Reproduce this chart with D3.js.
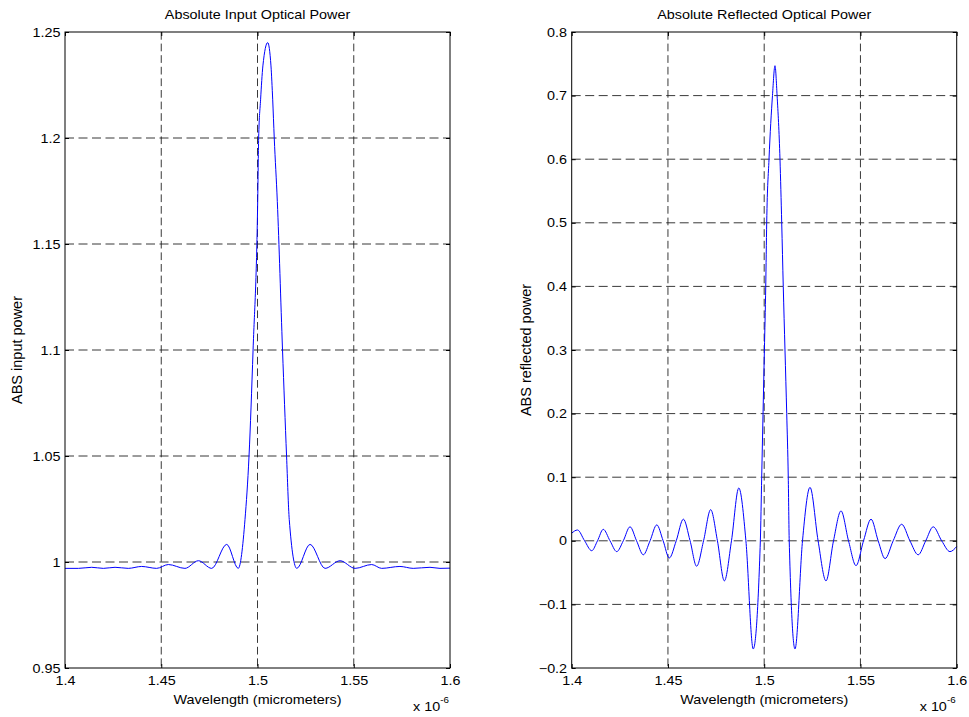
<!DOCTYPE html>
<html>
<head>
<meta charset="utf-8">
<script src="https://cdn.jsdelivr.net/npm/d3@7"></script>
<style>
  body { margin: 0; background: #fff; }
  svg { display: block; }
  text { font-family: "Liberation Sans", Arial, sans-serif; fill: #000; }
</style>
</head>
<body>
<svg id="chart" width="969" height="717"></svg>
<script>
// tick labels
var waveTicks = [1.4, 1.45, 1.5, 1.55, 1.6];
var inputTicks = [0.95, 1, 1.05, 1.1, 1.15, 1.2, 1.25];
var reflTicks = [-0.2, -0.1, 0, 0.1, 0.2, 0.3, 0.4, 0.5, 0.6, 0.7, 0.8];

// input optical power (wavelength in micrometers)
var inputWave = [1.400, 1.4070, 1.4139, 1.4199, 1.4260, 1.4329, 1.4398, 1.4476, 1.4537, 1.4623,
  1.4693, 1.4762, 1.4840, 1.4900, 1.4935, 1.4956, 1.4977, 1.5001, 1.5006, 1.5016,
  1.5028, 1.5053, 1.5070, 1.5079, 1.5087, 1.5103, 1.5130, 1.5151, 1.5165, 1.5204,
  1.5273, 1.5351, 1.5429, 1.5507, 1.5593, 1.5645, 1.5740, 1.5809, 1.5896, 1.5948, 1.600];
var inputPower = [0.9970, 0.9970, 0.9975, 0.9970, 0.9975, 0.9970, 0.9979, 0.9970, 0.9988, 0.9970,
  1.0006, 0.9970, 1.0083, 0.9970, 1.0200, 1.0500, 1.1000, 1.1700, 1.2000, 1.2180,
  1.2340, 1.2450, 1.2340, 1.2180, 1.2000, 1.1700, 1.1000, 1.0500, 1.0200, 0.9970,
  1.0083, 0.9970, 1.0006, 0.9970, 0.9988, 0.9970, 0.9979, 0.9970, 0.9975, 0.9970, 0.9971];

// reflected optical power
var reflWave = [1.400, 1.403, 1.4067, 1.4104, 1.4134, 1.4164, 1.4199, 1.4234, 1.4268, 1.4303,
  1.4337, 1.4372, 1.4407, 1.4442, 1.4475, 1.4507, 1.4543, 1.458, 1.4615, 1.4649,
  1.4685, 1.4722, 1.4757, 1.4793, 1.4830, 1.4868, 1.4905, 1.4943,
  1.4980, 1.4987, 1.4994, 1.5001, 1.5008, 1.5013, 1.5025, 1.5043, 1.5056,
  1.5067, 1.5082, 1.5091, 1.5099, 1.5108, 1.5117, 1.5125, 1.5130,
  1.5160, 1.5199, 1.5238, 1.528, 1.5321, 1.536, 1.5399, 1.5438, 1.5477, 1.5516,
  1.5555, 1.5592, 1.5628, 1.567, 1.5714, 1.5757, 1.580, 1.5839, 1.5878, 1.5922,
  1.5965, 1.600];
var reflPower = [0.012, 0.017, 0, -0.0156, 0, 0.018, 0, -0.017, 0, 0.022,
  0, -0.022, 0, 0.025, 0, -0.027, 0, 0.034, 0, -0.040,
  0, 0.049, 0, -0.063, 0, 0.083, 0, -0.170,
  0, 0.1, 0.2, 0.3, 0.4, 0.5, 0.6, 0.7, 0.747,
  0.7, 0.6, 0.5, 0.4, 0.3, 0.2, 0.1, 0,
  -0.170, 0, 0.084, 0, -0.063, 0, 0.047, 0, -0.039, 0,
  0.034, 0, -0.028, 0, 0.026, 0, -0.022, 0, 0.022, 0,
  -0.017, -0.009];

var svg = d3.select("#chart");
var stretch = "scale(1.15,1)";

function drawPanel(p) {
  var x = d3.scaleLinear().domain([1.4, 1.6]).range([p.left, p.right]);
  var y = d3.scaleLinear().domain(p.yDomain).range([p.bottom, p.top]);
  var g = svg.append("g");

  // dashed grid
  g.selectAll(".vgrid").data(waveTicks.slice(1, -1)).enter().append("line")
    .attr("x1", d => x(d)).attr("x2", d => x(d))
    .attr("y1", p.top).attr("y2", p.bottom)
    .attr("stroke", "#222").attr("stroke-width", 0.9)
    .attr("stroke-dasharray", "7.7,3.9");
  g.selectAll(".hgrid").data(p.yTicks.slice(1, -1)).enter().append("line")
    .attr("x1", p.left).attr("x2", p.right)
    .attr("y1", d => y(d)).attr("y2", d => y(d))
    .attr("stroke", "#222").attr("stroke-width", 0.9)
    .attr("stroke-dasharray", "9,4.5");

  // data line
  var pts = p.xs.map((d, i) => [d, p.ys[i]]);
  g.append("path")
    .datum(pts)
    .attr("fill", "none")
    .attr("stroke", "#0000ff")
    .attr("stroke-width", 1)
    .attr("d", d3.line().x(d => x(d[0])).y(d => y(d[1])).curve(d3.curveMonotoneX));

  // axes, ticks point inward like matlab
  var h = p.bottom - p.top;
  var xb = g.append("g").attr("transform", "translate(0," + p.bottom + ")")
    .call(d3.axisBottom(x).tickValues(waveTicks).tickSizeInner(-4).tickSizeOuter(0)
      .tickPadding(8).tickFormat(d3.format("")));
  xb.selectAll("text").attr("transform", stretch).style("font-size", "12.5px");
  g.append("g").attr("transform", "translate(0," + p.top + ")")
    .call(d3.axisTop(x).tickValues(waveTicks).tickSizeInner(-4).tickSizeOuter(0).tickFormat(""));

  var yl = g.append("g").attr("transform", "translate(" + p.left + ",0)")
    .call(d3.axisLeft(y).tickValues(p.yTicks).tickSizeInner(-4).tickSizeOuter(0)
      .tickPadding(4).tickFormat(d3.format("")));
  yl.selectAll("text").attr("transform", stretch).style("font-size", "12.5px");
  g.append("g").attr("transform", "translate(" + p.right + ",0)")
    .call(d3.axisRight(y).tickValues(p.yTicks).tickSizeInner(-4).tickSizeOuter(0).tickFormat(""));

  g.selectAll(".domain").remove();
  g.selectAll(".tick line").attr("stroke", "#000");
  g.selectAll(".tick text").attr("font-family", null);

  g.append("rect")
    .attr("x", p.left).attr("y", p.top)
    .attr("width", p.right - p.left).attr("height", h)
    .attr("fill", "none").attr("stroke", "#000").attr("stroke-width", 1);

  var cx = (p.left + p.right) / 2;
  g.append("text")
    .attr("transform", "translate(" + cx + ",18.5) " + stretch)
    .attr("text-anchor", "middle").style("font-size", "12.5px")
    .text(p.title);

  g.append("text")
    .attr("transform", "translate(" + cx + ",703.5) " + stretch)
    .attr("text-anchor", "middle").style("font-size", "12.5px")
    .text("Wavelength (micrometers)");

  var ex = g.append("text")
    .attr("transform", "translate(" + (p.right - 37) + ",711) " + stretch)
    .style("font-size", "12.5px");
  ex.append("tspan").text("x 10");
  ex.append("tspan").attr("dy", -8).style("font-size", "8.5px").text("-6");

  g.append("text")
    .attr("transform", "translate(" + p.yLabelX + "," + ((p.top + p.bottom) / 2) + ") rotate(-90)")
    .attr("text-anchor", "middle").style("font-size", "14.5px")
    .text(p.yLabel);
}

drawPanel({
  left: 65, right: 450, top: 32, bottom: 668,
  yDomain: [0.95, 1.25], yTicks: inputTicks,
  xs: inputWave, ys: inputPower,
  title: "Absolute Input Optical Power",
  yLabel: "ABS input power", yLabelX: 22
});

drawPanel({
  left: 571.7, right: 956.7, top: 32, bottom: 668,
  yDomain: [-0.2, 0.8], yTicks: reflTicks,
  xs: reflWave, ys: reflPower,
  title: "Absolute Reflected Optical Power",
  yLabel: "ABS reflected power", yLabelX: 530.5
});
</script>
</body>
</html>
